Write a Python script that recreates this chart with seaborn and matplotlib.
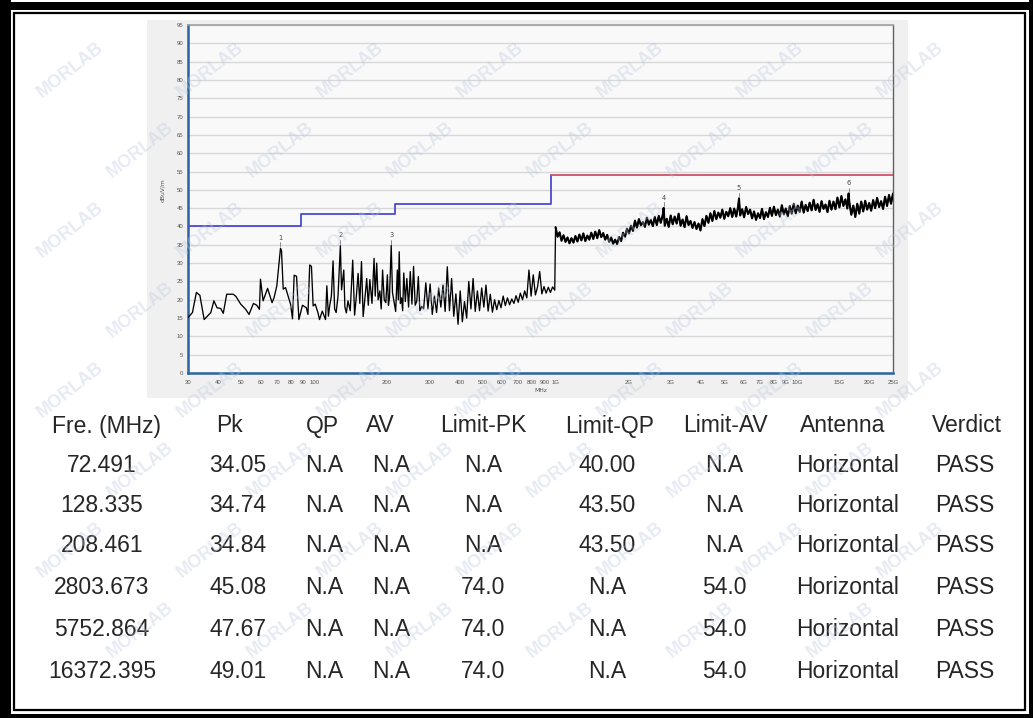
import matplotlib
matplotlib.use('Agg')
import numpy as np
import pandas as pd
import matplotlib.pyplot as plt
import seaborn as sns
from matplotlib.patches import Rectangle

sns.set_style('white')
plt.rcParams['font.family'] = ['Liberation Sans', 'DejaVu Sans']

W, H = 1033, 718

# ---------------- data ----------------
# 30 MHz - 285 MHz, read point by point (marker peaks are added below)
low_freq = [30, 31.3, 32.5, 33.6, 35.0, 36.7, 37.3, 38.4, 39.6, 41.0, 42.0, 43.4,
            46.2, 47.4, 49.6, 52.0, 53.7, 56.0, 57.8, 59.3, 59.9, 61.4, 64.1,
            66.9, 68.2, 70.0, 73.2, 74.4, 76.1, 77.3, 79.8, 81.3, 82.6, 84.5,
            86.4, 89.4, 92.8, 94.2, 95.8, 97.4, 99.0, 101.0, 103.6, 105.2, 108.0,
            111.4, 112.8, 114.5, 116.0, 117.8, 119.7, 121.5, 123.3, 125.5, 129.8,
            132.6, 134.0, 135.9, 138.0, 141.0, 144.4, 147.0, 149.5, 152.0, 154.5,
            157.0, 159.5, 162.0, 165.0, 167.5, 170.0, 173.5, 177.0, 179.0, 181.5,
            184.0, 187.0, 189.5, 192.0, 195.0, 198.0, 201.0, 203.0, 205.0, 211.0,
            214.0, 217.5, 221.0, 223.0, 225.0, 227.5, 230.0, 232.5, 235.0, 238.5,
            242.0, 246.0, 250.0, 254.0, 258.0, 262.0, 266.0, 270.0, 274.0, 279.0,
            284.0]
low_level = [15.1, 16.5, 22.0, 21.2, 14.6, 16.0, 16.5, 19.7, 17.8, 17.6, 16.3, 21.5,
             21.5, 20.9, 18.8, 17.4, 16.0, 19.0, 18.5, 17.4, 25.6, 19.7, 23.1,
             19.2, 20.6, 23.8, 33.4, 22.9, 23.3, 21.8, 18.8, 14.8, 26.7, 26.4,
             14.6, 18.5, 17.8, 16.0, 29.5, 29.1, 18.3, 18.8, 16.5, 14.6, 16.9,
             14.6, 23.8, 15.5, 18.5, 21.0, 30.6, 17.5, 16.5, 21.0, 22.7,
             28.1, 18.0, 16.4, 19.7, 17.0, 30.8, 15.8, 21.0, 27.2, 19.0,
             30.4, 15.4, 20.0, 25.8, 18.5, 25.5, 19.0, 31.3, 21.0, 30.0,
             20.0, 22.4, 17.5, 28.1, 20.0, 19.2, 26.8, 18.5, 20.5, 22.0,
             19.6, 16.8, 28.1, 20.0, 33.1, 19.0, 20.5, 17.0, 27.3, 19.5,
             25.8, 18.0, 27.7, 18.8, 29.1, 18.5, 19.6, 26.3, 17.0, 18.2,
             17.5]

# 290 MHz - 992 MHz sweep (log spaced sweep points)
mid_level = [24.6, 17.5, 24.3, 16.0, 21.0, 16.5, 23.2, 18.0, 24.0, 16.8,
             29.0, 17.0, 25.8, 15.5, 21.6, 13.3, 22.4, 14.0, 19.5, 15.0,
             25.0, 17.5, 25.8, 16.8, 22.4, 17.0, 23.2, 18.0, 24.0, 16.9,
             21.5, 16.6, 20.0, 17.3, 19.8, 17.8, 21.0, 18.4, 20.5, 18.6,
             20.2, 19.0, 21.1, 19.3, 21.8, 20.0, 22.4, 20.5, 28.1, 21.0,
             26.8, 21.3, 23.5, 27.7, 21.6, 23.6, 21.8, 23.4, 22.0, 23.5,
             22.6]

# 1 GHz - 25 GHz sweep (log spaced sweep points)
high_level = [39.8, 37.2, 38.4, 36.1, 37.6, 35.8, 37.0, 35.4, 36.8, 35.6,
              37.4, 35.9, 37.8, 36.2, 38.1, 36.0, 37.5, 36.4, 38.3, 36.6,
              38.6, 36.8, 39.0, 37.1, 38.2, 36.4, 37.7, 35.8, 37.0, 35.3,
              36.4, 35.2, 37.1, 36.0, 38.3, 37.2, 39.4, 38.1, 40.2, 38.8,
              41.6, 39.7, 42.0, 40.3, 41.2, 39.9, 42.4, 40.5, 41.8, 40.1,
              42.6, 40.4, 42.9, 41.0, 43.2, 40.2, 42.1, 39.9, 43.0, 40.6,
              42.7, 40.8, 43.5, 40.2, 41.9, 39.8, 42.8, 40.4, 41.5, 39.6,
              41.2, 39.3, 40.8, 38.9, 42.0, 40.1, 42.9, 41.0, 43.6, 41.5,
              44.2, 42.0, 43.8, 42.4, 44.6, 42.1, 44.0, 42.8, 45.0, 42.6,
              44.9, 42.7, 45.5, 43.0, 44.7, 42.5, 45.3, 43.4, 44.6, 42.2,
              44.1, 41.8, 43.6, 42.3, 44.8, 42.0, 43.9, 42.6, 45.1, 42.9,
              45.4, 43.1, 44.6, 42.7, 45.8, 43.3, 44.9, 42.8, 45.6, 43.5,
              46.2, 43.6, 45.7, 44.0, 46.8, 43.8, 45.9, 44.2, 46.5, 44.4,
              47.3, 44.5, 46.1, 44.0, 46.9, 44.8, 46.0, 43.9, 47.0, 44.6,
              46.8, 44.7, 47.9, 45.2, 48.3, 45.6, 47.4, 44.9, 46.6, 43.2,
              45.7, 42.6, 46.2, 43.5, 46.8, 44.1, 47.0, 44.6, 46.4, 44.3,
              47.2, 45.0, 47.8, 45.3, 46.9, 44.8, 48.1, 45.6, 48.6, 46.2,
              49.0]

marker_id = ['1', '2', '3', '4', '5', '6']
marker_freq = [72.491, 128.335, 208.461, 2803.673, 5752.864, 16372.395]
marker_pk = [34.05, 34.74, 34.84, 45.08, 47.67, 49.01]

limit_low_freq = [30, 88, 88, 216, 216, 960, 960]
limit_low_level = [40, 40, 43.5, 43.5, 46, 46, 54]
limit_high_freq = [960, 25000]
limit_high_level = [54, 54]

xtick_vals = [30, 40, 50, 60, 70, 80, 90, 100, 200, 300, 400, 500, 600, 700, 800,
              900, 1000, 2000, 3000, 4000, 5000, 6000, 7000, 8000, 9000, 10000,
              15000, 20000, 25000]
xtick_text = ['30', '40', '50', '60', '70', '80', '90', '100', '200', '300', '400',
              '500', '600', '700', '800', '900', '1G', '2G', '3G', '4G', '5G', '6G',
              '7G', '8G', '9G', '10G', '15G', '20G', '25G']

columns = ['Fre. (MHz)', 'Pk', 'QP', 'AV', 'Limit-PK', 'Limit-QP', 'Limit-AV',
           'Antenna', 'Verdict']
fre_text = ['72.491', '128.335', '208.461', '2803.673', '5752.864', '16372.395']
pk_text = ['34.05', '34.74', '34.84', '45.08', '47.67', '49.01']
qp_text = ['N.A'] * 6
av_text = ['N.A'] * 6
limit_pk_text = ['N.A', 'N.A', 'N.A', '74.0', '74.0', '74.0']
limit_qp_text = ['40.00', '43.50', '43.50', 'N.A', 'N.A', 'N.A']
limit_av_text = ['N.A', 'N.A', 'N.A', '54.0', '54.0', '54.0']
antenna_text = ['Horizontal'] * 6
verdict_text = ['PASS'] * 6

# ---------------- build the trace ----------------
mid_freq = np.geomspace(290, 992, len(mid_level))
high_freq = np.geomspace(1000, 25000, len(high_level))
trace = pd.DataFrame({
    'freq': np.concatenate([low_freq, mid_freq, high_freq, marker_freq]),
    'level': np.concatenate([low_level, mid_level, high_level, marker_pk]),
}).sort_values('freq')
trace_ghz = trace[trace['freq'] >= 1000]

fig = plt.figure(figsize=(W / 100, H / 100), dpi=100)


def px_rect(x, y, w, h, **kw):
    fig.add_artist(Rectangle((x / W, 1 - (y + h) / H), w / W, h / H,
                             transform=fig.transFigure, **kw))


# chart screenshot panel
px_rect(147, 20, 761, 378, facecolor='#f0f0f0', edgecolor='none', zorder=0)

ax = fig.add_axes([188 / W, 1 - 373 / H, (893 - 188) / W, (373 - 25) / H])
ax.set_facecolor('#f9f9f9')
ax.set_xscale('log')
ax.set_xlim(30, 25000)
ax.set_ylim(0, 95)
ax.set_yticks(range(0, 96, 5))
ax.yaxis.grid(True, color='#d8d8d8', lw=1.0)
ax.xaxis.grid(False)
ax.set_xticks(xtick_vals)
ax.set_xticklabels(xtick_text)
ax.xaxis.set_minor_locator(matplotlib.ticker.NullLocator())
ax.tick_params(axis='both', labelsize=4.3, labelcolor='#555555', color='#888888',
               length=2, width=0.6, pad=1.5, direction='out')
ax.tick_params(axis='x', pad=3)
for s in ['left', 'bottom']:
    ax.spines[s].set_color('#2a64a0')
    ax.spines[s].set_linewidth(1.8)
ax.spines['top'].set_color('#a0a0a0')
ax.spines['top'].set_linewidth(1.2)
ax.spines['right'].set_color('#606060')
ax.spines['right'].set_linewidth(1.0)

ax.plot(limit_low_freq, limit_low_level, color='#4a4ad0', lw=1.3, zorder=3)
ax.plot(limit_high_freq, limit_high_level, color='#d0506a', lw=1.3, zorder=3)

sns.lineplot(data=trace, x='freq', y='level', estimator=None, sort=False,
             color='black', lw=0.95, ax=ax, zorder=4)
# the GHz sweep is much denser, so it reads as a thicker band
sns.lineplot(data=trace_ghz, x='freq', y='level', estimator=None, sort=False,
             color='black', lw=1.5, ax=ax, zorder=4)
ax.set_xlabel('')
ax.set_ylabel('')

for mid, f, pk in zip(marker_id, marker_freq, marker_pk):
    ax.plot([f, f], [pk + 0.5, pk + 1.6], color='#777777', lw=0.6, zorder=5)
    ax.text(f, pk + 2.0, mid, fontsize=4.8, color='#444444', ha='center',
            va='bottom', family='DejaVu Sans', zorder=5)

fig.text(163 / W, 1 - 190 / H, 'dBuV/m', rotation=90, fontsize=4.3, color='#555555',
         ha='center', va='center', family='DejaVu Sans')
fig.text(541 / W, 1 - 391 / H, 'MHz', fontsize=4.3, color='#555555',
         ha='center', va='center', family='DejaVu Sans')

# ---------------- result table ----------------
header_x = [107, 229, 322, 380, 483, 610, 725, 843, 967]
data_x = [102, 238, 324, 391, 483, 607, 724, 848, 965]
row_y = [426, 466, 506, 546, 588, 630, 672]
for cx, name in zip(header_x, columns):
    fig.text(cx / W, 1 - row_y[0] / H, name, fontsize=16.5, ha='center', va='center')
table_cols = [fre_text, pk_text, qp_text, av_text, limit_pk_text, limit_qp_text,
              limit_av_text, antenna_text, verdict_text]
for cx, col in zip(data_x, table_cols):
    for ry, val in zip(row_y[1:], col):
        fig.text(cx / W, 1 - ry / H, val, fontsize=16.5, ha='center', va='center')

# ---------------- watermark ----------------
for j, wy in enumerate(range(70, 680, 80)):
    off = (j % 2) * 70
    for wx in range(70 + off, 980, 140):
        fig.text(wx / W, 1 - wy / H, 'MORLAB', fontsize=13, fontweight='bold',
                 color='#b9c7de', alpha=0.35, rotation=38, ha='center',
                 va='center', zorder=10)

# ---------------- document frame ----------------
px_rect(0, 0, 11, H, facecolor='black', edgecolor='none', zorder=20)
px_rect(0, 2, W, 8, facecolor='black', edgecolor='none', zorder=20)
px_rect(1029, 0, 4, H, facecolor='black', edgecolor='none', zorder=20)
px_rect(0, 714, W, 4, facecolor='black', edgecolor='none', zorder=20)
px_rect(13.5, 12.5, 1011, 697.5, facecolor='none', edgecolor='black', lw=1.6,
        zorder=20)

fig.savefig('out.png', dpi=100)
